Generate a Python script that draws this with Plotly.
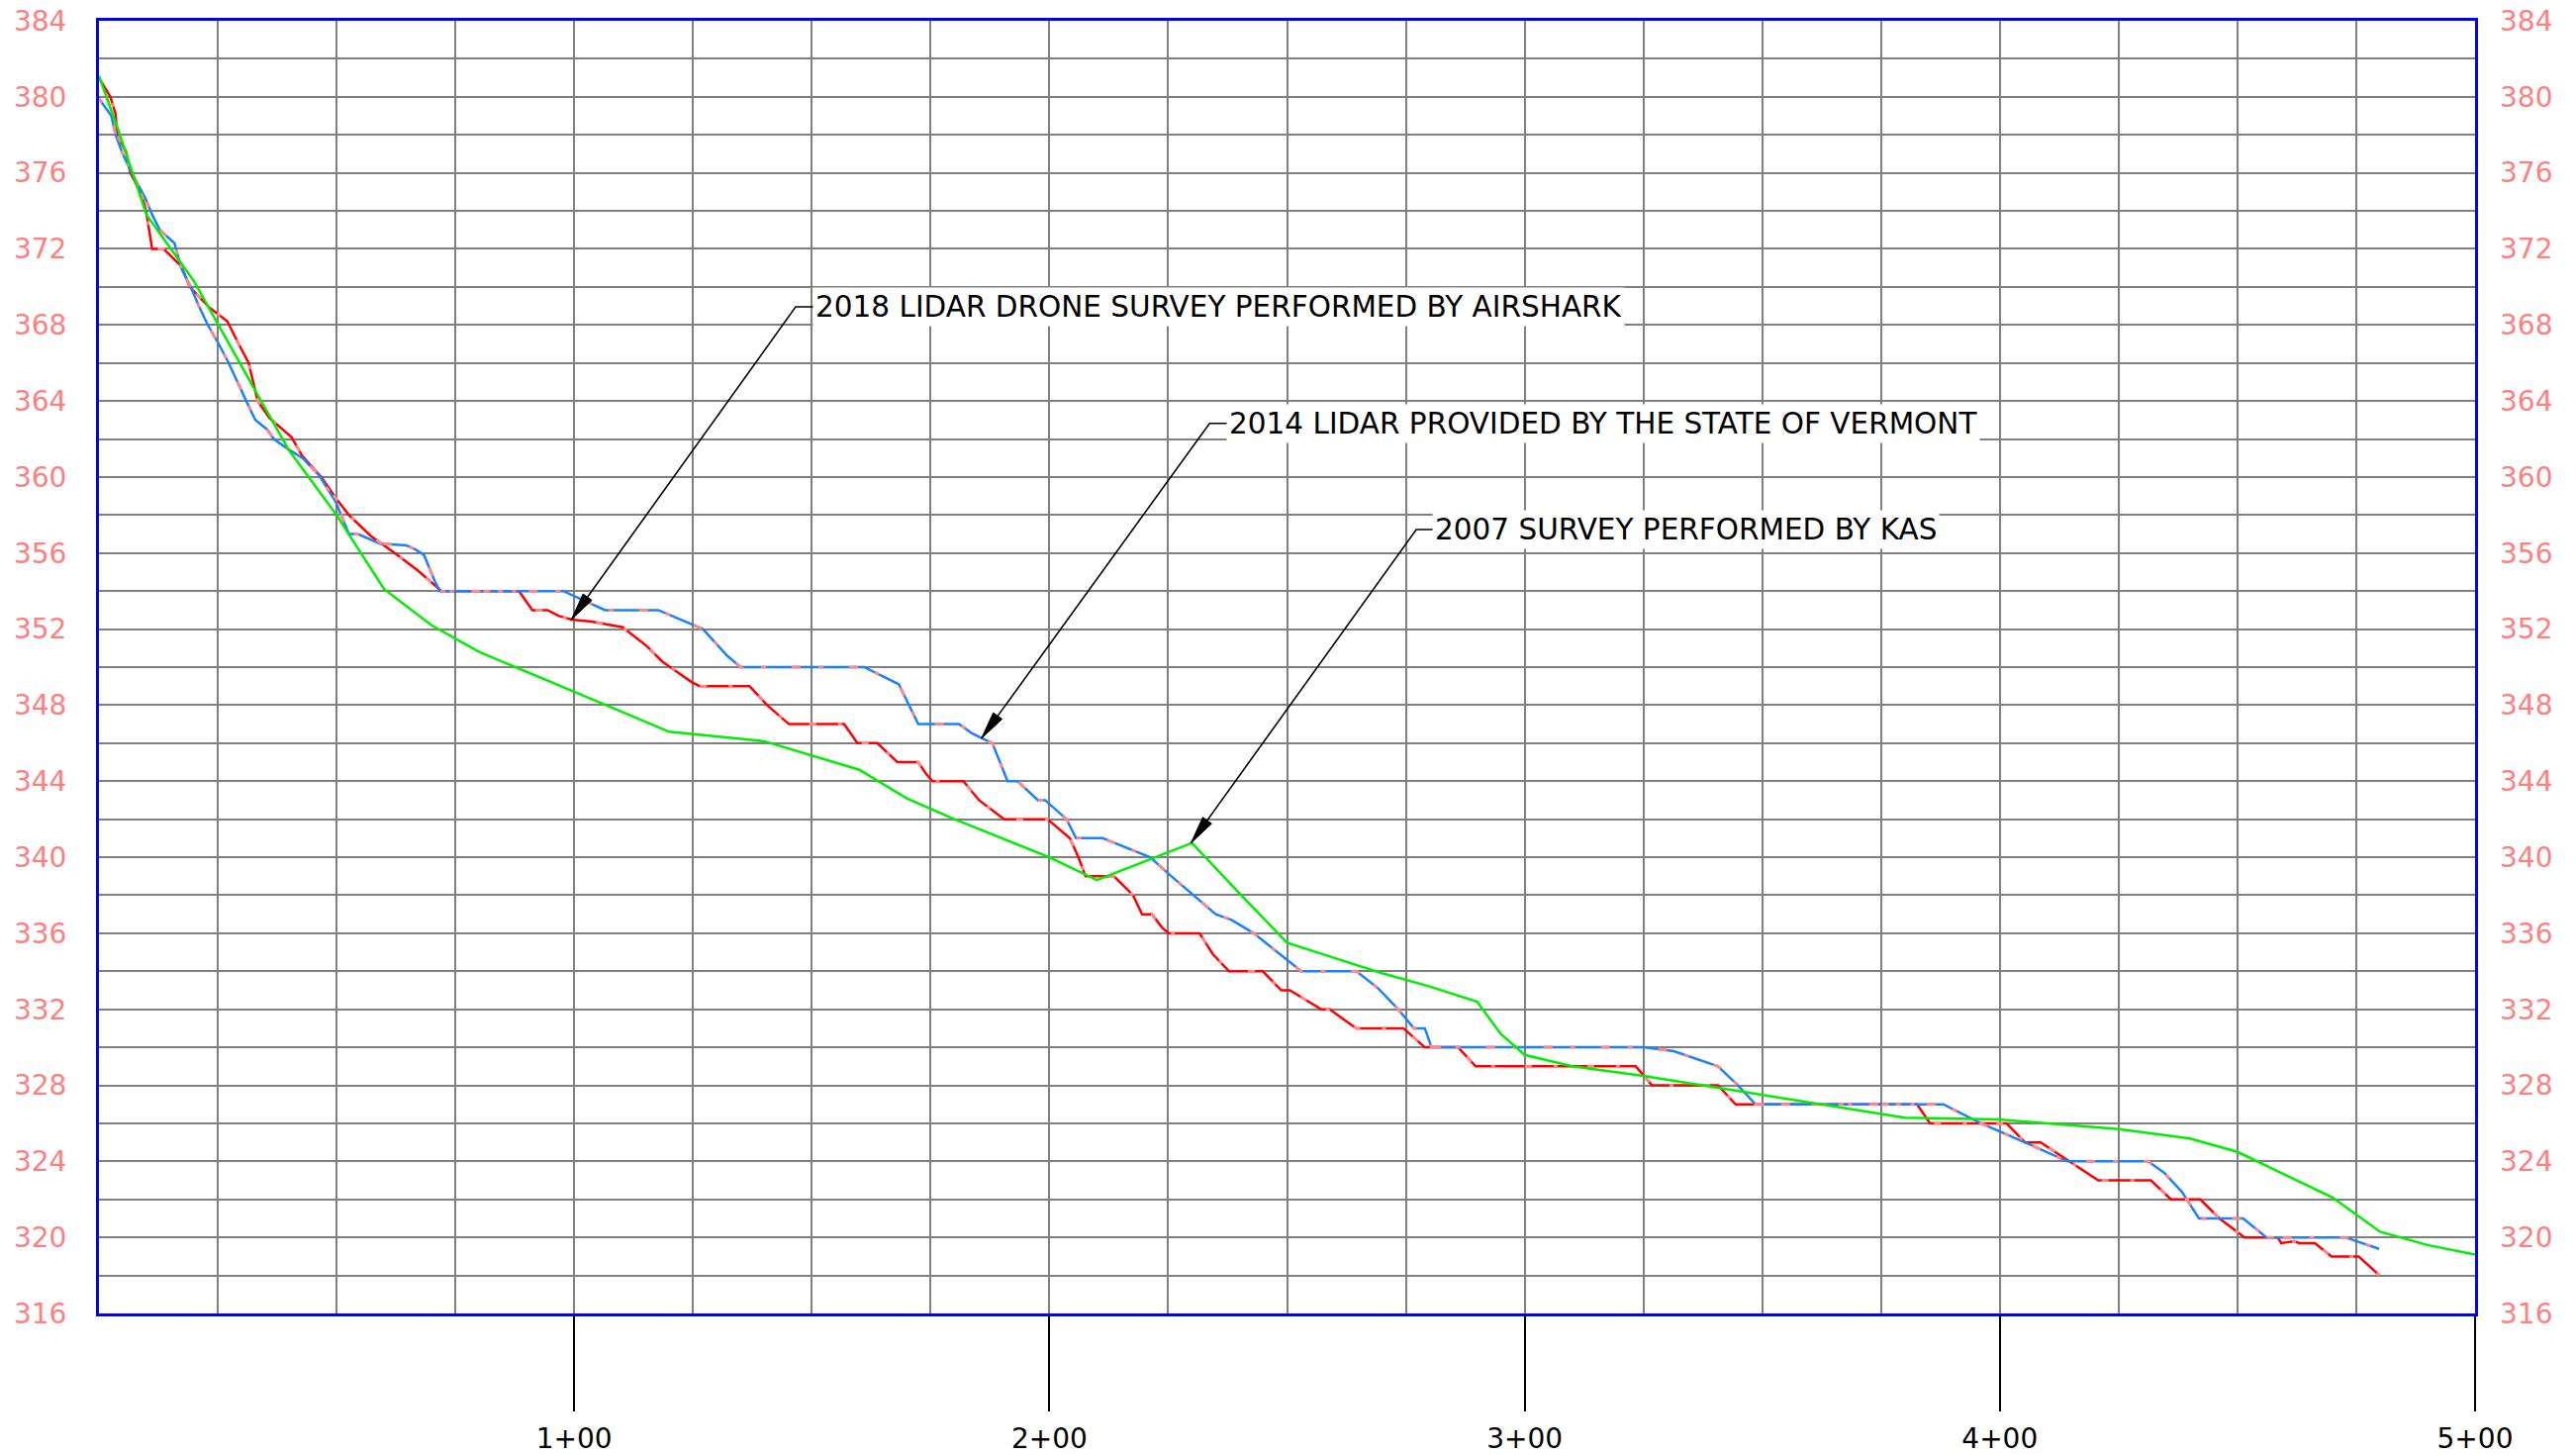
import math
import plotly.graph_objects as go

# ---------------- data (stations in ft, elevations in ft) ----------------
station_2007 = [0, 4, 10, 20, 33, 40, 50, 60, 70, 80, 100, 120, 140, 160, 170, 180, 190, 200,
                210, 230, 240, 250, 260, 270, 280, 290, 295, 300, 310, 325, 340, 363, 380,
                400, 410, 425, 440, 450, 470, 480, 490, 500]
elev_2007 = [381.1, 378.3, 373.8, 370.3, 364.5, 361.4, 358.0, 354.1, 352.2, 350.8, 348.7, 346.6,
             346.1, 344.6, 343.1, 342.0, 341.0, 340.0, 338.8, 340.75, 338.1, 335.5, 334.7, 333.9,
             333.2, 332.4, 330.7, 329.6, 329.0, 328.5, 327.9, 327.0, 326.3, 326.2, 326.0, 325.7,
             325.2, 324.5, 322.1, 320.3, 319.6, 319.1]

station_2014 = [0, 2.6, 3.5, 5.0, 6.9, 9.7, 11.2, 12.8, 15.9, 17.3, 19.3, 21.0, 22.9, 25.2, 27.3,
                28.9, 31.0, 32.9, 35.4, 36.8, 39.6, 42.8, 46.3, 49.8, 52.6, 54.5, 59.1, 64.7,
                66.5, 68.4, 70.7, 71.7, 97.7, 106.5, 117.7, 127.1, 132.2, 135.0, 161.0, 168.3,
                172.4, 181.0, 183.8, 188.0, 191.2, 193.3, 197.6, 199.1, 203.6, 205.6, 211.2,
                221.2, 225.2, 235.0, 238.3, 243.0, 247.9, 253.0, 264.6, 269.2, 273.4, 276.7,
                279.0, 280.4, 325.0, 331.4, 340.7, 344.9, 348.6, 388.1, 396.0, 401.6, 405.3,
                414.2, 431.2, 434.6, 438.3, 441.9, 451.2, 456.1, 472.7, 479.8]
elev_2014 = [379.9, 379.0, 378.0, 377.0, 376.0, 374.7, 373.8, 373.0, 372.3, 371.0, 370.0, 369.0,
             368.0, 367.0, 366.0, 365.1, 364.0, 363.0, 362.5, 362.0, 361.5, 361.0, 360.1, 358.7,
             357.0, 357.0, 356.5, 356.4, 356.2, 355.9, 354.5, 354.0, 354.0, 353.0, 353.0, 352.0,
             350.6, 350.0, 350.0, 349.1, 347.0, 347.0, 346.5, 346.0, 344.0, 344.0, 343.0, 343.0,
             342.0, 341.0, 341.0, 340.0, 339.1, 337.0, 336.7, 336.0, 335.0, 334.0, 334.0, 333.1,
             332.0, 331.0, 331.0, 330.0, 330.0, 329.8, 329.0, 328.0, 327.0, 327.0, 326.0, 325.4,
             325.0, 324.0, 324.0, 323.4, 322.4, 321.0, 321.0, 320.0, 320.0, 319.4]

station_2018 = [0, 2.4, 3.5, 3.8, 5.7, 6.6, 8.9, 9.9, 11.2, 13.6, 17.3, 19.1, 23.3, 27.0, 29.4,
                31.5, 33.4, 35.9, 40.5, 42.8, 46.8, 49.8, 52.6, 57.2, 62.8, 67.0, 72.1, 88.4,
                91.2, 94.4, 96.7, 99.5, 103.7, 110.2, 115.3, 118.5, 120.2, 124.8, 126.4, 136.9,
                140.6, 145.2, 156.8, 159.6, 163.8, 168.0, 172.4, 174.0, 175.4, 181.9, 185.2,
                190.5, 199.6, 204.3, 206.1, 207.6, 213.6, 217.6, 219.5, 221.6, 223.7, 225.1,
                231.6, 234.4, 237.8, 244.9, 248.8, 250.6, 257.2, 259.0, 262.9, 264.6, 274.5,
                279.0, 286.0, 289.7, 323.4, 326.8, 340.7, 344.4, 382.6, 385.3, 401.4, 405.3,
                408.6, 414.6, 420.7, 431.8, 436.0, 442.2, 446.2, 451.5, 458.5, 459.2, 462.0,
                463.0, 466.3, 469.8, 475.5, 479.9]
elev_2018 = [381.0, 380.0, 379.1, 378.0, 377.1, 376.0, 374.9, 374.0, 372.0, 372.0, 371.1, 370.0,
             368.9, 368.2, 367.0, 366.0, 364.0, 363.1, 362.1, 361.1, 360.0, 358.9, 358.0, 356.9,
             355.9, 355.1, 354.0, 354.0, 353.0, 353.0, 352.7, 352.5, 352.4, 352.1, 351.1, 350.3,
             350.0, 349.2, 349.0, 349.0, 348.0, 347.0, 347.0, 346.0, 346.0, 345.0, 345.0, 344.4,
             344.0, 344.0, 343.0, 342.0, 342.0, 341.0, 340.0, 339.0, 339.0, 338.0, 337.0, 337.0,
             336.3, 336.0, 336.0, 334.9, 334.0, 334.0, 333.0, 333.0, 332.0, 332.0, 331.3, 331.0,
             331.0, 330.0, 330.0, 329.0, 329.0, 328.0, 328.0, 327.0, 327.0, 326.0, 326.0, 325.0,
             325.0, 324.0, 323.0, 323.0, 322.0, 322.0, 321.0, 320.0, 320.0, 319.7, 319.8, 319.7,
             319.7, 319.0, 319.0, 318.0]

x_tick_vals = [100, 200, 300, 400, 500]
x_tick_text = ["1+00", "2+00", "3+00", "4+00", "5+00"]
x_grid_vals = list(range(0, 501, 25))
y_tick_vals = list(range(316, 385, 4))
y_grid_vals = list(range(316, 385, 2))

callout_text = ["2018 LIDAR DRONE SURVEY PERFORMED BY AIRSHARK",
                "2014 LIDAR PROVIDED BY THE STATE OF VERMONT",
                "2007 SURVEY PERFORMED BY KAS"]
callout_tip_x = [99.4, 185.7, 229.8]
callout_tip_y = [352.5, 346.25, 340.75]
callout_bend_x = [146.6, 233.7, 277.2]
callout_bend_y = [368.95, 362.82, 357.24]
callout_text_x = [150.6, 237.6, 280.9]

# ---------------- layout constants ----------------
W, H = 2603, 1469
ML, MR, MT, MB = 100, 102, 21, 142
X_RANGE = [0, 500]
Y_RANGE = [316, 384]
px_per_x = (W - ML - MR) / (X_RANGE[1] - X_RANGE[0])
px_per_y = (H - MT - MB) / (Y_RANGE[1] - Y_RANGE[0])

FONT = "DejaVu Sans"
GRID = "#808080"
FRAME = "#0000FF"
LABEL_PINK = "#FF7F7F"
HIDDEN_PINK = "#FF8888"

fig = go.Figure()
fig.add_trace(go.Scatter(x=station_2018, y=elev_2018, mode="lines", name="2018",
                         line=dict(color="#FF0000", width=2.5)))
fig.add_trace(go.Scatter(x=station_2014, y=elev_2014, mode="lines", name="2014",
                         line=dict(color="#1A82FF", width=2.5)))
# pink dash overlay seen on the LiDAR profiles
fig.add_trace(go.Scatter(x=station_2018, y=elev_2018, mode="lines", name="2018 overlay",
                         line=dict(color=HIDDEN_PINK, width=3, dash="7px,22px,4px,30px")))
fig.add_trace(go.Scatter(x=station_2014, y=elev_2014, mode="lines", name="2014 overlay",
                         line=dict(color=HIDDEN_PINK, width=3, dash="5px,26px,9px,18px")))
fig.add_trace(go.Scatter(x=station_2007, y=elev_2007, mode="lines", name="2007",
                         line=dict(color="#00EE00", width=2.5), yaxis="y2"))

# leaders, arrowheads and callout texts
shapes = []
annotations = []
for i, txt in enumerate(callout_text):
    tx, ty = callout_tip_x[i], callout_tip_y[i]
    bx, by = callout_bend_x[i], callout_bend_y[i]
    shapes.append(dict(type="path", xref="x", yref="y", layer="above",
                       path=f"M{tx},{ty} L{bx},{by} L{callout_text_x[i]},{by}",
                       line=dict(color="black", width=1.6)))
    dxp = (bx - tx) * px_per_x
    dyp = (by - ty) * px_per_y
    L = math.hypot(dxp, dyp)
    ux, uy = dxp / L, dyp / L
    nx, ny = -uy, ux
    hl, hw = 28, 5.5
    p1 = (tx + (ux * hl + nx * hw) / px_per_x, ty + (uy * hl + ny * hw) / px_per_y)
    p2 = (tx + (ux * hl - nx * hw) / px_per_x, ty + (uy * hl - ny * hw) / px_per_y)
    shapes.append(dict(type="path", xref="x", yref="y", layer="above",
                       path=f"M{tx},{ty} L{p1[0]},{p1[1]} L{p2[0]},{p2[1]} Z",
                       fillcolor="black", line=dict(color="black", width=1)))
    annotations.append(dict(x=callout_text_x[i] - 2 / px_per_x, y=by, xref="x", yref="y",
                            text=txt, showarrow=False, xanchor="left", yanchor="middle",
                            bgcolor="white", borderpad=2,
                            font=dict(family=FONT, size=29.5, color="black")))

fig.update_layout(
    width=W, height=H,
    margin=dict(l=ML, r=MR, t=MT, b=MB, pad=0, autoexpand=False),
    paper_bgcolor="white", plot_bgcolor="white",
    showlegend=False,
    shapes=shapes, annotations=annotations,
    xaxis=dict(range=X_RANGE, tickmode="array", tickvals=x_tick_vals, ticktext=x_tick_text,
               ticks="outside", ticklen=96, tickwidth=2, tickcolor="black",
               ticklabelstandoff=3,
               tickfont=dict(family=FONT, size=28, color="black"),
               showgrid=True, gridcolor=GRID, gridwidth=2,
               minor=dict(tickmode="array", tickvals=x_grid_vals, showgrid=True,
                          gridcolor=GRID, gridwidth=2, ticks=""),
               showline=True, linecolor=FRAME, linewidth=3, mirror=True,
               zeroline=False, fixedrange=True, automargin=False),
    yaxis=dict(range=Y_RANGE, tickmode="array", tickvals=y_tick_vals,
               ticks="", ticklabelstandoff=24,
               tickfont=dict(family=FONT, size=28, color=LABEL_PINK),
               showgrid=True, gridcolor=GRID, gridwidth=2,
               minor=dict(tickmode="array", tickvals=y_grid_vals, showgrid=True,
                          gridcolor=GRID, gridwidth=2, ticks=""),
               showline=True, linecolor=FRAME, linewidth=3, mirror=True,
               zeroline=False, fixedrange=True, automargin=False),
    yaxis2=dict(range=Y_RANGE, overlaying="y", side="right", tickmode="array",
                tickvals=y_tick_vals, ticks="", ticklabelstandoff=24,
                tickfont=dict(family=FONT, size=28, color=LABEL_PINK),
                showgrid=False, zeroline=False, showline=False, fixedrange=True,
                automargin=False),
)

fig.write_html(
    "out.html", config={"displayModeBar": False},
    post_script=("var gd=document.getElementById('{plot_id}');"
                 "gd.style.position='fixed';gd.style.top='0px';gd.style.left='0px';"
                 "document.documentElement.style.margin='0';document.documentElement.style.padding='0';"
                 "document.body.style.margin='0';document.body.style.padding='0';"
                 "document.body.style.overflow='hidden';"))
